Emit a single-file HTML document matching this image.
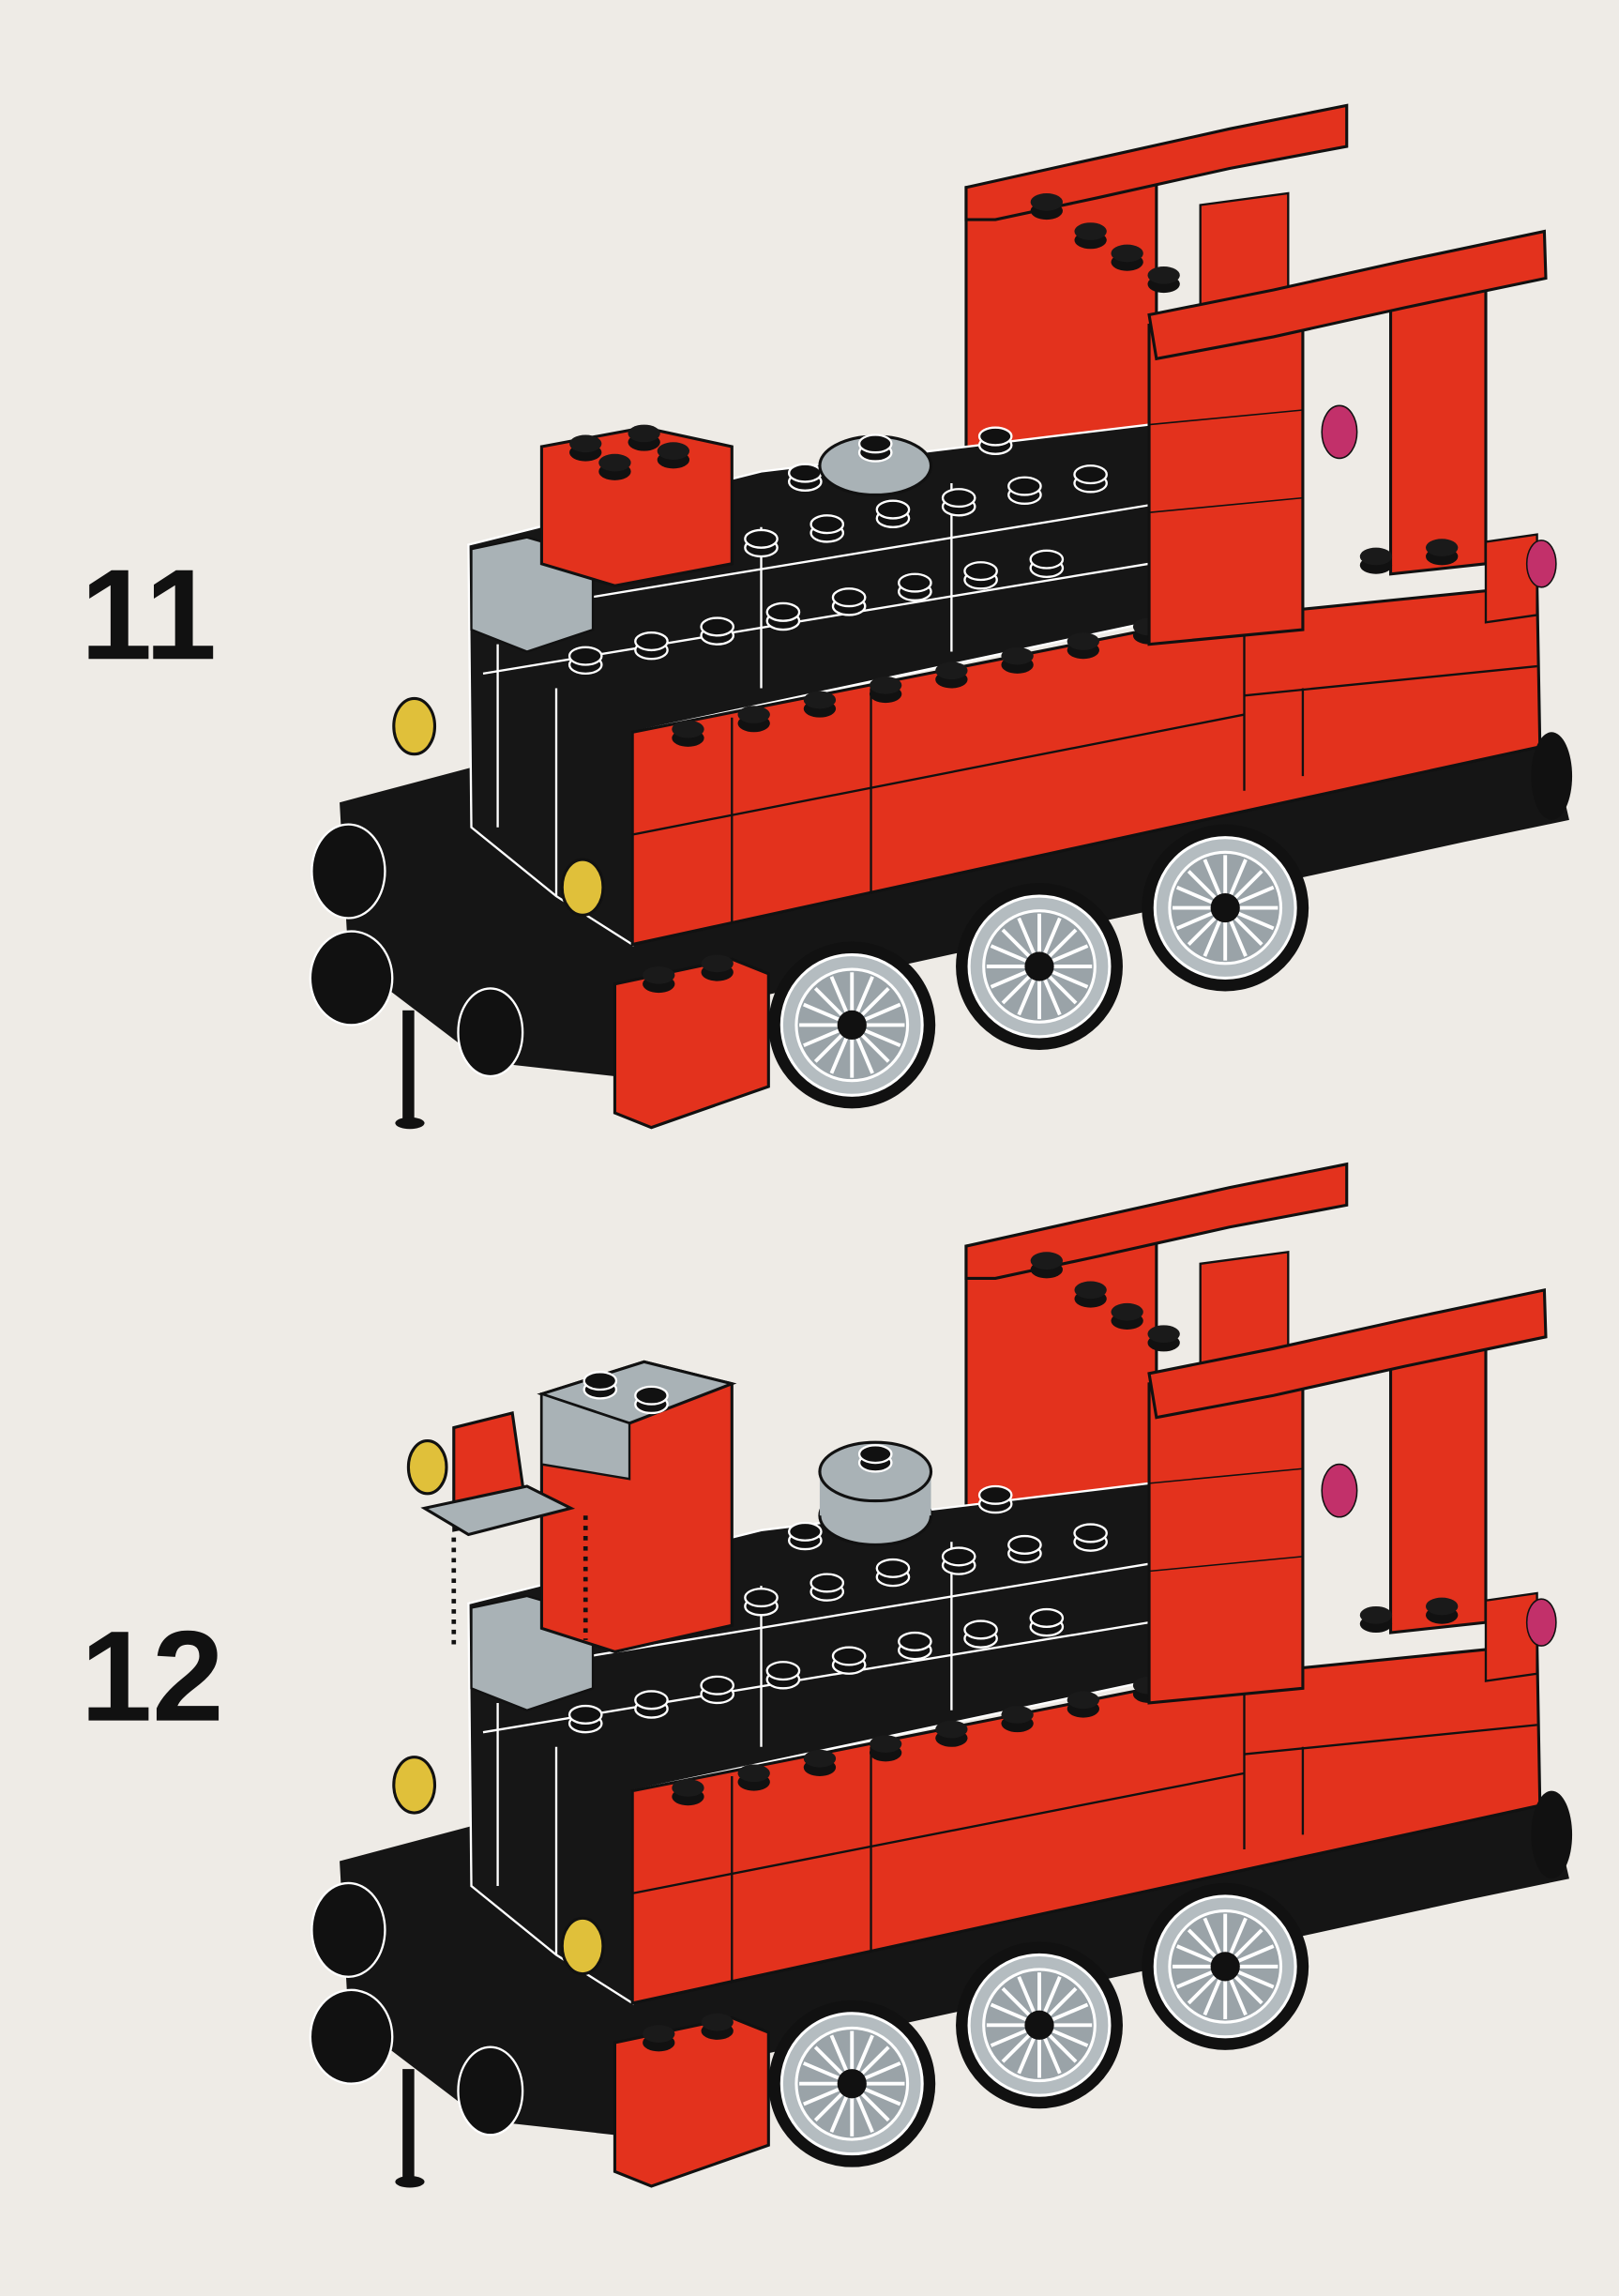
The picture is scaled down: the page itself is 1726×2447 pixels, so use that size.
<!DOCTYPE html>
<html><head><meta charset="utf-8"><style>
html,body{margin:0;padding:0;background:#eeebe6;}
svg{display:block;}
</style></head><body>
<svg width="1726" height="2447" viewBox="0 0 1106 1568" preserveAspectRatio="none" xmlns="http://www.w3.org/2000/svg">
<defs>
<g id="wheel">
<circle r="57" fill="#111"/>
<circle r="48" fill="#b4bcc0" stroke="#fff" stroke-width="2"/>
<circle r="38" fill="#9aa3a8" stroke="#fff" stroke-width="2"/>
<g stroke="#fff" stroke-width="2.5">
<line x1="-36" y1="0" x2="36" y2="0"/><line x1="0" y1="-36" x2="0" y2="36"/>
<line x1="-25" y1="-25" x2="25" y2="25"/><line x1="-25" y1="25" x2="25" y2="-25"/>
<line x1="-33" y1="-14" x2="33" y2="14"/><line x1="-14" y1="-33" x2="14" y2="33"/>
<line x1="-33" y1="14" x2="33" y2="-14"/><line x1="14" y1="-33" x2="-14" y2="33"/>
</g>
<circle r="10" fill="#111"/>
</g>
<g id="stud"><ellipse cx="0" cy="4" rx="11" ry="6" fill="#111" stroke="#fff" stroke-width="1.5"/><ellipse cx="0" cy="-2" rx="11" ry="6" fill="#111" stroke="#fff" stroke-width="1.5"/></g>
<g id="rstud"><ellipse cx="0" cy="4" rx="11" ry="6" fill="#111"/><ellipse cx="0" cy="-2" rx="11" ry="6" fill="#1a1a1a"/></g>
<g id="train">
<!-- cab back wall -->
<polygon points="660,128 790,110 790,420 660,430" fill="#e3321d" stroke="#111" stroke-width="2"/>
<!-- chassis -->
<polygon points="232,548 330,522 430,640 1060,508 1072,560 1000,575 430,700 420,735 330,725 238,655" fill="#151515"/>
<!-- black body -->
<polygon points="320,372 520,322 785,290 785,425 432,500 432,645 380,612 322,565" fill="#161616" stroke="#fff" stroke-width="1.5"/>
<g stroke="#fff" stroke-width="1.5" fill="none">
<line x1="330" y1="420" x2="785" y2="345"/><line x1="330" y1="460" x2="785" y2="385"/>
<line x1="380" y1="470" x2="380" y2="612"/><line x1="340" y1="440" x2="340" y2="565"/>
<line x1="520" y1="360" x2="520" y2="470"/><line x1="650" y1="330" x2="650" y2="445"/>
</g>
<!-- studs on black top -->
<use href="#stud" x="400" y="450"/><use href="#stud" x="445" y="440"/><use href="#stud" x="490" y="430"/><use href="#stud" x="535" y="420"/>
<use href="#stud" x="580" y="410"/><use href="#stud" x="625" y="400"/><use href="#stud" x="670" y="392"/><use href="#stud" x="715" y="384"/>
<use href="#stud" x="520" y="370"/><use href="#stud" x="565" y="360"/><use href="#stud" x="610" y="350"/><use href="#stud" x="655" y="342"/><use href="#stud" x="700" y="334"/><use href="#stud" x="745" y="326"/>
<use href="#stud" x="550" y="325"/><use href="#stud" x="680" y="300"/>
<!-- gray tile -->
<polygon points="322,375 360,367 405,380 405,430 360,445 322,430" fill="#a9b2b6" stroke="#111" stroke-width="1.5"/>
<!-- red side body -->
<polygon points="432,500 785,430 850,420 1050,400 1052,510 432,645" fill="#e3321d" stroke="#111" stroke-width="2"/>
<g stroke="#111" stroke-width="1.5" fill="none">
<line x1="432" y1="570" x2="850" y2="488"/><line x1="850" y1="475" x2="1050" y2="455"/>
<line x1="500" y1="490" x2="500" y2="630"/><line x1="595" y1="470" x2="595" y2="610"/><line x1="850" y1="420" x2="850" y2="540"/><line x1="890" y1="470" x2="890" y2="530"/>
</g>
<use href="#rstud" x="470" y="500"/><use href="#rstud" x="515" y="490"/><use href="#rstud" x="560" y="480"/><use href="#rstud" x="605" y="470"/><use href="#rstud" x="650" y="460"/><use href="#rstud" x="695" y="450"/><use href="#rstud" x="740" y="440"/><use href="#rstud" x="785" y="430"/>
<!-- cab pillars -->
<polygon points="785,222 890,212 890,430 785,440" fill="#e3321d" stroke="#111" stroke-width="2"/>
<line x1="785" y1="290" x2="890" y2="280" stroke="#111"/><line x1="785" y1="350" x2="890" y2="340" stroke="#111"/>
<polygon points="950,205 1015,198 1015,385 950,392" fill="#e3321d" stroke="#111" stroke-width="2"/>
<polygon points="1015,370 1050,365 1050,420 1015,425" fill="#e3321d" stroke="#111" stroke-width="1.5"/>
<polygon points="820,140 880,132 880,215 820,222" fill="#e3321d" stroke="#111" stroke-width="1.5"/>
<use href="#rstud" x="940" y="382"/><use href="#rstud" x="985" y="376"/>
<!-- pink -->
<ellipse cx="915" cy="295" rx="12" ry="18" fill="#c2306a" stroke="#111"/>
<ellipse cx="1053" cy="385" rx="10" ry="16" fill="#c2306a" stroke="#111"/>
<!-- roof beams -->
<polygon points="660,128 750,108 840,88 920,72 920,100 840,115 750,135 680,150 660,150" fill="#e3321d" stroke="#111" stroke-width="2"/>
<polygon points="785,215 870,198 960,178 1055,158 1056,190 960,210 870,230 790,245" fill="#e3321d" stroke="#111" stroke-width="2"/>
<use href="#rstud" x="715" y="140"/><use href="#rstud" x="745" y="160"/><use href="#rstud" x="770" y="175"/><use href="#rstud" x="795" y="190"/>
<!-- wheels -->
<use href="#wheel" x="582" y="700"/><use href="#wheel" x="710" y="660"/><use href="#wheel" x="837" y="620"/>
<ellipse cx="1060" cy="530" rx="14" ry="30" fill="#111"/>
<!-- front red block -->
<polygon points="420,672 500,655 525,665 525,742 445,770 420,760" fill="#e3321d" stroke="#111" stroke-width="2"/>
<use href="#rstud" x="450" y="668"/><use href="#rstud" x="490" y="660"/>
<!-- buffers -->
<ellipse cx="238" cy="595" rx="25" ry="32" fill="#111" stroke="#fff" stroke-width="1.5"/>
<ellipse cx="240" cy="668" rx="28" ry="32" fill="#111" stroke="#fff" stroke-width="1.5"/>
<ellipse cx="335" cy="705" rx="22" ry="30" fill="#111" stroke="#fff" stroke-width="1.5"/>
<rect x="275" y="690" width="8" height="75" fill="#111"/>
<ellipse cx="280" cy="767" rx="10" ry="4" fill="#111"/>
<ellipse cx="283" cy="496" rx="14" ry="19" fill="#e0c03a" stroke="#111" stroke-width="2"/>
<ellipse cx="398" cy="606" rx="14" ry="19" fill="#e0c03a" stroke="#111" stroke-width="2"/>
</g>
</defs>

<rect width="1106" height="1568" fill="#eeebe6"/>
<text x="55" y="450" font-family="Liberation Sans, sans-serif" font-weight="bold" font-size="88" fill="#111">11</text>
<text x="55" y="1175" font-family="Liberation Sans, sans-serif" font-weight="bold" font-size="88" fill="#111">12</text>

<use href="#train"/>
<!-- step 11 extras -->
<polygon points="370,305 440,292 500,305 500,385 420,400 370,385" fill="#e3321d" stroke="#111" stroke-width="2"/>
<use href="#rstud" x="400" y="305"/><use href="#rstud" x="440" y="298"/><use href="#rstud" x="420" y="318"/><use href="#rstud" x="460" y="310"/>
<ellipse cx="598" cy="318" rx="38" ry="20" fill="#a9b2b6" stroke="#111" stroke-width="2"/>
<use href="#stud" x="598" y="305"/>

<g transform="translate(0,723)"><use href="#train"/></g>
<!-- step 12 extras -->
<polygon points="370,952 440,930 500,945 500,1110 420,1128 370,1112" fill="#e3321d" stroke="#111" stroke-width="2"/>
<polygon points="370,952 440,930 500,945 430,972" fill="#a9b2b6" stroke="#111" stroke-width="2"/>
<polygon points="370,952 430,972 430,1010 370,1000" fill="#a9b2b6" stroke="#111" stroke-width="1.5"/>
<use href="#stud" x="410" y="945"/><use href="#stud" x="445" y="955"/>
<ellipse cx="598" cy="1035" rx="38" ry="20" fill="#a9b2b6" stroke="#111" stroke-width="2"/>
<rect x="560" y="1005" width="76" height="30" fill="#a9b2b6"/>
<ellipse cx="598" cy="1005" rx="38" ry="20" fill="#a9b2b6" stroke="#111" stroke-width="2"/>
<use href="#stud" x="598" y="995"/>
<polygon points="310,975 350,965 360,1035 310,1045" fill="#e3321d" stroke="#111" stroke-width="2"/>
<polygon points="290,1030 360,1015 390,1030 320,1048" fill="#a9b2b6" stroke="#111" stroke-width="2"/>
<ellipse cx="292" cy="1002" rx="13" ry="18" fill="#e0c03a" stroke="#111" stroke-width="2"/>
<line x1="310" y1="1050" x2="310" y2="1125" stroke="#111" stroke-width="3" stroke-dasharray="3 4"/>
<line x1="400" y1="1035" x2="400" y2="1120" stroke="#111" stroke-width="3" stroke-dasharray="3 4"/>
</svg>
</body></html>
